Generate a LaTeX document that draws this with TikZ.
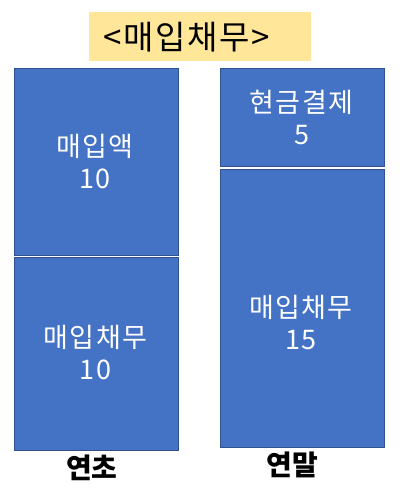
\documentclass[tikz,border=0pt]{standalone}
\usepackage{fontspec}
\setmainfont{Noto Sans CJK KR}
\newfontfamily\spacedfont[LetterSpace=5]{Noto Sans CJK KR}
\definecolor{barfill}{HTML}{4472C4}
\definecolor{barline}{HTML}{2F528F}
\definecolor{titlefill}{HTML}{FFE699}
\begin{document}
\begin{tikzpicture}[x=1pt,y=-1pt,
  bar/.style={draw=barline, fill=barfill, line width=1pt, minimum width=164pt, inner sep=0pt},
  txt/.style={text=white, font=\spacedfont\fontsize{27}{32}\selectfont, align=center, inner sep=0pt},
  lbl/.style={text=black, font=\fontsize{28}{30}\selectfont\bfseries, inner sep=0pt}]
\useasboundingbox (0,0) rectangle (400,488);
\fill[white] (0,0) rectangle (400,488);
\node[fill=titlefill, minimum width=222pt, minimum height=49pt, inner sep=0pt] (title) at (200,36.5) {};
\node[font=\spacedfont\fontsize{33}{36}\selectfont, inner sep=0pt] (titletext) at (186.5,37.5) {<매입채무>};
\node[bar, minimum height=187pt] (lt) at (96,161.5) {};
\node[bar, minimum height=193pt] (lb) at (96,353.5) {};
\node[bar, minimum height=98pt] (rt) at (302,117) {};
\node[bar, minimum height=278pt] (rb) at (302,308) {};
\node[txt] (t1) at (95,161.5) {매입액\\10};
\node[txt] (t2) at (95.5,352.5) {매입채무\\10};
\node[txt] (t3) at (301.5,118) {현금결제\\5};
\node[txt] (t4) at (301,322.5) {매입채무\\15};
\node[lbl] (l1) at (92,467.5) {연초};
\node[lbl] (l2) at (292.5,464.5) {연말};
\end{tikzpicture}
\end{document}
